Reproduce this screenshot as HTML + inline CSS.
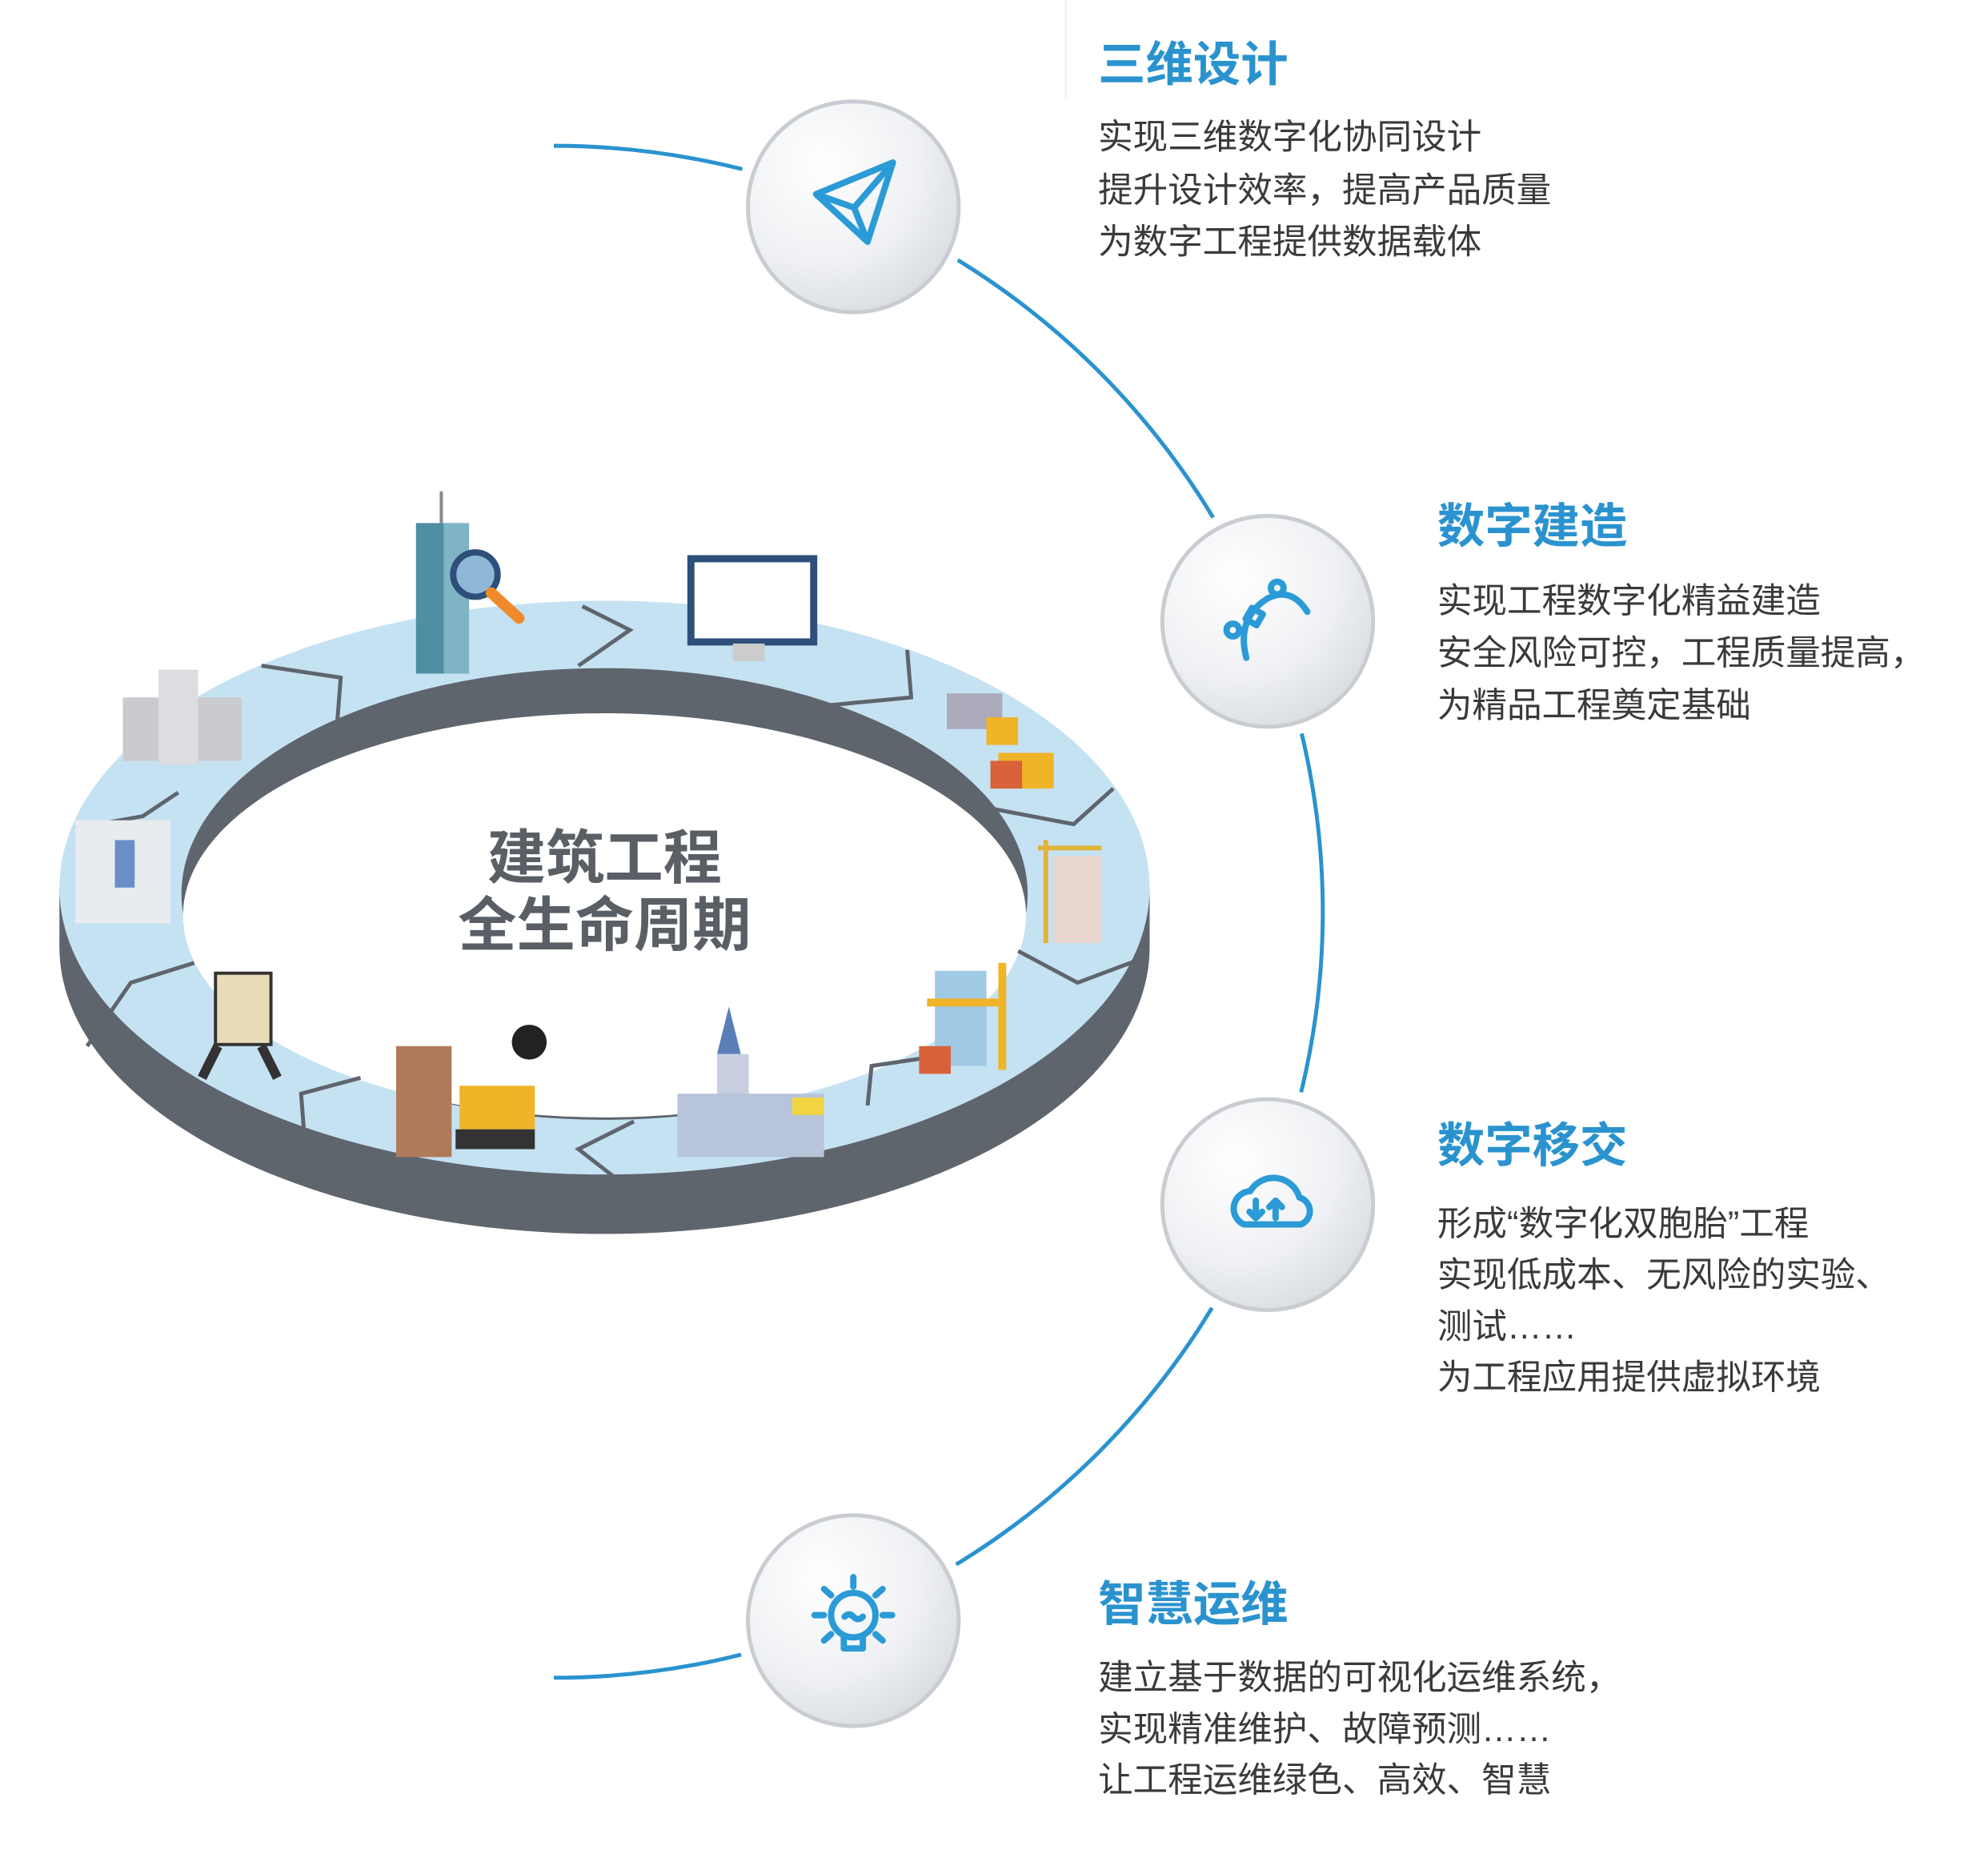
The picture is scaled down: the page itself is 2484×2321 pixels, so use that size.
<!DOCTYPE html>
<html><head><meta charset="utf-8"><style>
html,body{margin:0;padding:0;background:#fff;}
svg{display:block;}
.h{font-family:"Liberation Sans","Noto Sans CJK SC",sans-serif;font-weight:bold;font-size:60px;fill:#2a93cf;}
.b{font-family:"Liberation Sans","Noto Sans CJK SC",sans-serif;font-size:44px;fill:#3a3a3a;}
.c{font-family:"Liberation Sans","Noto Sans CJK SC",sans-serif;font-weight:bold;font-size:74px;fill:#5a5f66;}
</style></head><body>
<svg width="2484" height="2321" viewBox="0 0 2484 2321" xmlns="http://www.w3.org/2000/svg">
<defs>
<radialGradient id="cg" cx="0.35" cy="0.3" r="0.8">
<stop offset="0" stop-color="#ffffff"/><stop offset="0.6" stop-color="#eef0f3"/><stop offset="1" stop-color="#d6d9de"/>
</radialGradient>
</defs>
<g transform="scale(0.99)">
<line x1="1345" y1="0" x2="1345" y2="125" stroke="#f0f0f0" stroke-width="2"/>
<path d="M699 184 A970 966 0 0 1 699 2117" fill="none" stroke="#2a93cf" stroke-width="5"/>
<g>
<circle cx="1077" cy="261" r="148" fill="#fff"/>
<circle cx="1077" cy="261" r="133" fill="url(#cg)" stroke="#c9ccd1" stroke-width="5"/>
<circle cx="1600" cy="784" r="148" fill="#fff"/>
<circle cx="1600" cy="784" r="133" fill="url(#cg)" stroke="#c9ccd1" stroke-width="5"/>
<circle cx="1600" cy="1520" r="148" fill="#fff"/>
<circle cx="1600" cy="1520" r="133" fill="url(#cg)" stroke="#c9ccd1" stroke-width="5"/>
<circle cx="1077" cy="2045" r="148" fill="#fff"/>
<circle cx="1077" cy="2045" r="133" fill="url(#cg)" stroke="#c9ccd1" stroke-width="5"/>
</g>
<g fill="none" stroke="#2a9bd6" stroke-width="8" stroke-linejoin="round" stroke-linecap="round">
<path d="M1030 245 L1127 205 L1095 305 Z M1030 245 L1078 262 L1127 205 M1078 262 L1095 305"/>
<path d="M1573 830 Q1560 780 1600 755 Q1630 740 1650 772"/>
<circle cx="1556" cy="795" r="8"/><rect x="1575" y="770" width="16" height="16" transform="rotate(30 1583 778)"/><circle cx="1612" cy="742" r="8"/>
<path d="M1570 1545 a22 22 0 0 1 8 -42 a34 34 0 0 1 62 8 a18 18 0 0 1 2 34 Z"/>
<path d="M1585 1515 v22 m-8 -8 l8 8 l8 -8 M1610 1537 v-22 m-8 8 l8 -8 l8 8"/>
<circle cx="1077" cy="2038" r="28"/><path d="M1065 2066 v14 h24 v-14 M1066 2040 q6 -6 11 0 q6 6 12 0"/>
<path d="M1077 1990 v12 M1040 2005 l9 8 M1114 2005 l-9 8 M1028 2038 h12 M1114 2038 h12 M1040 2070 l9 -8 M1114 2070 l-9 -8"/>
</g>
<text class="h" x="1386" y="102">三维设计</text>
<text class="b" x="1386" y="188">实现三维数字化协同设计</text>
<text class="b" x="1386" y="255">提升设计效率，提高产品质量</text>
<text class="b" x="1386" y="320">为数字工程提供数据载体</text>
<text class="h" x="1814" y="685">数字建造</text>
<text class="b" x="1814" y="773">实现工程数字化精益建造</text>
<text class="b" x="1814" y="839">安全风险可控，工程质量提高，</text>
<text class="b" x="1814" y="905">为精品工程奠定基础</text>
<text class="h" x="1814" y="1466">数字移交</text>
<text class="b" x="1814" y="1559">形成“数字化双胞胎”工程</text>
<text class="b" x="1814" y="1624">实现低成本、无风险的实验、</text>
<text class="b" x="1814" y="1689">测试……</text>
<text class="b" x="1814" y="1753">为工程应用提供虚拟环境</text>
<text class="h" x="1386" y="2045">智慧运维</text>
<text class="b" x="1386" y="2132">建立基于数据的可视化运维系统，</text>
<text class="b" x="1386" y="2197">实现精准维护、故障预测……</text>
<text class="b" x="1386" y="2261">让工程运维绿色、高效、智慧</text>
<ellipse cx="763" cy="1195" rx="688" ry="362" fill="#5f656d"/>
<rect x="75" y="1120" width="1376" height="75" fill="#5f656d"/>
<ellipse cx="763" cy="1120" rx="688" ry="362" fill="#c5e2f3"/>
<ellipse cx="763" cy="1128" rx="534" ry="285" fill="#5f656d"/>
<ellipse cx="763" cy="1155" rx="532" ry="255" fill="#fff"/>
<g fill="none" stroke="#5f656d" stroke-width="5">
<polyline points="735,765 795,795 730,840"/>
<polyline points="1145,820 1150,880 1045,890"/>
<polyline points="1405,995 1355,1040 1250,1020"/>
<polyline points="1440,1210 1360,1240 1285,1200"/>
<polyline points="1235,1325 1100,1345 1095,1395"/>
<polyline points="800,1415 730,1450 775,1485"/>
<polyline points="455,1360 380,1380 385,1445"/>
<polyline points="245,1215 165,1240 110,1320"/>
<polyline points="225,1000 180,1030 95,1045"/>
<polyline points="330,840 430,855 425,920"/>
</g>
<text class="c" x="763" y="1108" text-anchor="middle">建筑工程</text>
<text class="c" x="763" y="1193" text-anchor="middle">全生命周期</text>
<g>
<rect x="525" y="660" width="60" height="190" fill="#4f8ea3"/><rect x="560" y="660" width="32" height="190" fill="#7fb4c4"/><line x1="557" y1="620" x2="557" y2="660" stroke="#888" stroke-width="4"/>
<circle cx="600" cy="725" r="28" fill="#8fb8d8" stroke="#2d4f7a" stroke-width="8"/><line x1="620" y1="748" x2="655" y2="780" stroke="#f08a2c" stroke-width="14" stroke-linecap="round"/>
<rect x="872" y="705" width="155" height="105" fill="#fff" stroke="#2d4f7a" stroke-width="9"/><rect x="925" y="812" width="40" height="22" fill="#ccc"/>
<rect x="155" y="880" width="150" height="80" fill="#c9cbce"/><rect x="200" y="845" width="50" height="120" fill="#dcdde0"/>
<rect x="95" y="1035" width="120" height="130" fill="#e8ecef"/><rect x="145" y="1060" width="25" height="60" fill="#6a8fc8"/>
<rect x="272" y="1228" width="70" height="90" fill="#e9dcb8" stroke="#333" stroke-width="4"/><path d="M255 1360 l20 -40 M350 1360 l-20 -40" stroke="#333" stroke-width="12"/>
<rect x="500" y="1320" width="70" height="140" fill="#b07a5a"/><rect x="580" y="1370" width="95" height="55" fill="#f0b429"/><circle cx="668" cy="1315" r="22" fill="#222"/><rect x="575" y="1425" width="100" height="25" fill="#333"/>
<polygon points="920,1270 935,1330 905,1330" fill="#5a7fb8"/><rect x="905" y="1330" width="40" height="110" fill="#c7cfe0"/><rect x="855" y="1380" width="185" height="80" fill="#b7c4da"/><rect x="1000" y="1385" width="40" height="22" fill="#f0d441"/>
<rect x="1180" y="1225" width="65" height="120" fill="#9fc9e4"/><path d="M1265 1215 v135 M1170 1265 h100" stroke="#f0b429" stroke-width="10"/><rect x="1160" y="1320" width="40" height="35" fill="#d9623a"/>
<rect x="1330" y="1080" width="60" height="110" fill="#e8d6cf"/><path d="M1320 1060 v130 M1310 1070 h80" stroke="#e0b33a" stroke-width="6"/>
<rect x="1195" y="875" width="70" height="45" fill="#aab"/><rect x="1245" y="905" width="40" height="35" fill="#f0b429"/><rect x="1260" y="950" width="70" height="45" fill="#f0b429"/><rect x="1250" y="960" width="40" height="35" fill="#d9623a"/>
</g>
</g>
</svg>
</body></html>
